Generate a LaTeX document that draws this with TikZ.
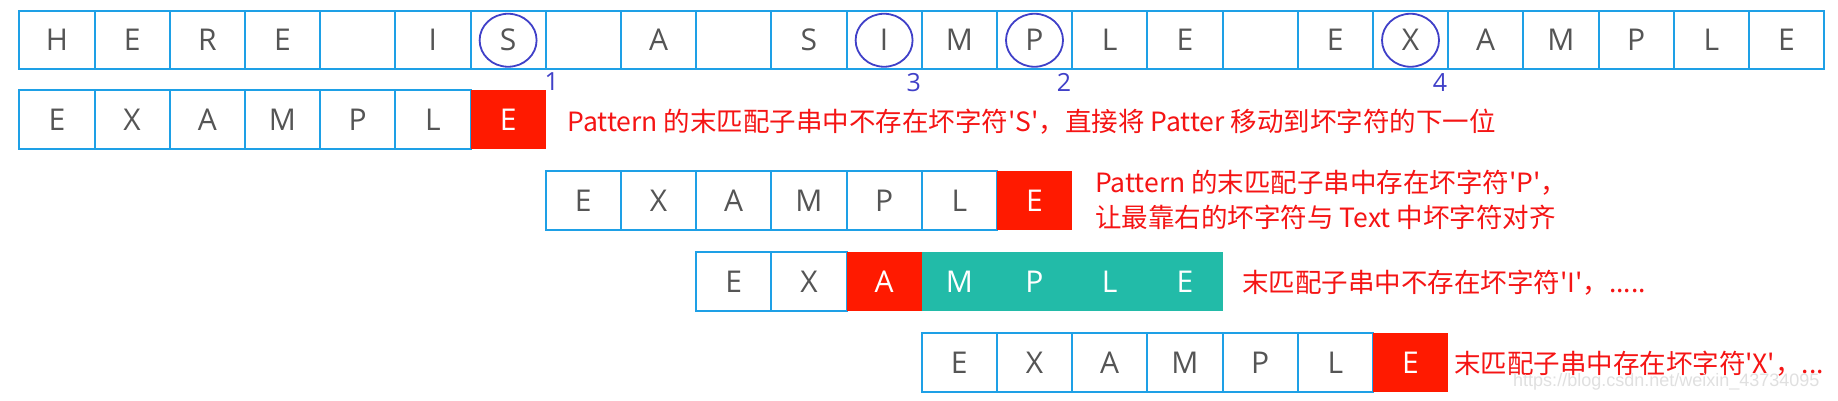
\documentclass[tikz,border=0pt]{standalone}
\usepackage{fontspec}
\setmainfont{Open Sans}
\newfontfamily\cjk{Noto Sans CJK SC}
\newfontfamily\wmfont{Liberation Sans}
\usetikzlibrary{shapes.geometric}
\definecolor{cellblue}{RGB}{30,160,230}
\definecolor{badred}{RGB}{255,26,0}
\definecolor{okteal}{RGB}{34,187,168}
\definecolor{circblue}{RGB}{64,64,200}
\definecolor{txtgray}{RGB}{85,85,85}
\definecolor{notered}{RGB}{245,20,20}
\begin{document}
\begin{tikzpicture}[x=1pt,y=1pt,
  cell/.style={draw=cellblue, line width=2pt, fill=white, minimum width=75.2pt,
    minimum height=58.5pt, inner sep=0pt, anchor=north west, text=txtgray,
    text height=21.5pt, text depth=0pt, font=\fontsize{30}{30}\selectfont},
  badcell/.style={cell, draw=none, fill=badred, text=white},
  goodcell/.style={cell, draw=none, fill=okteal, text=white},
  circmark/.style={draw=circblue, line width=1.8pt, ellipse, minimum width=57pt,
    minimum height=53pt, inner sep=0pt},
  idx/.style={text=circblue, font=\fontsize{25}{25}\selectfont, inner sep=0pt},
  note/.style={text=notered, font=\cjk\fontsize{26.5}{35}\selectfont, anchor=west,
    inner sep=0pt, align=left}
]
\useasboundingbox[fill=white] (0,0) rectangle (1838,-401);

% text row
\foreach \ch [count=\i from 0] in {H,E,R,E,{},I,S,{},A,{},S,I,M,P,L,E,{},E,X,A,M,P,L,E}
  \node[cell] (t\i) at ({18.3+\i*75.2},-10) {\ch};

% bad-character marks
\node[circmark] (cS) at (t6.center) {};
\node[circmark] (cI) at (t11.center) {};
\node[circmark] (cP) at (t13.center) {};
\node[circmark] (cX) at (t18.center) {};
\node[idx] (n1) at ([shift={(5,-11)}]t6.south east) {1};
\node[idx] (n3) at ([shift={(-9,-12)}]t11.south east) {3};
\node[idx] (n2) at ([shift={(-9,-12)}]t13.south east) {2};
\node[idx] (n4) at ([shift={(-9,-12)}]t18.south east) {4};

% pattern row 1
\foreach \ch [count=\i from 0] in {E,X,A,M,P,L}
  \node[cell] (a\i) at ({18.3+(0+\i)*75.2},-89.5) {\ch};
\node[badcell] (a6) at ({18.3+6*75.2},-89.5) {E};
\node[note] (na) at ([xshift=21pt,yshift=-2pt]a6.east)
  {Pattern 的末匹配子串中不存在坏字符'S'，直接将 Patter 移动到坏字符的下一位};

% pattern row 2
\foreach \ch [count=\i from 0] in {E,X,A,M,P,L}
  \node[cell] (b\i) at ({18.3+(7+\i)*75.2},-170) {\ch};
\node[badcell] (b6) at ({18.3+13*75.2},-170) {E};
\node[note] (nb) at ([xshift=22pt]b6.east)
  {Pattern 的末匹配子串中存在坏字符'P'，\\让最靠右的坏字符与 Text 中坏字符对齐};

% pattern row 3
\foreach \ch [count=\i from 0] in {E,X}
  \node[cell] (c\i) at ({18.3+(9+\i)*75.2},-251) {\ch};
\node[badcell] (c2) at ({18.3+11*75.2},-251) {A};
\foreach \ch [count=\i from 3] in {M,P,L,E}
  \node[goodcell] (c\i) at ({18.3+(9+\i)*75.2},-251) {\ch};
\node[note] (nc) at ([xshift=18.5pt,yshift=-1pt]c6.east)
  {末匹配子串中不存在坏字符'I'，.....};

% pattern row 4
\foreach \ch [count=\i from 0] in {E,X,A,M,P,L}
  \node[cell] (d\i) at ({18.3+(12+\i)*75.2},-332) {\ch};
\node[badcell] (d6) at ({18.3+18*75.2},-332) {E};
\node[note] (nd) at ([xshift=5pt,yshift=-1pt]d6.east)
  {末匹配子串中存在坏字符'X'，...};

% watermark
\node[text=black!12, font=\wmfont\fontsize{18}{18}\selectfont, anchor=west, inner sep=0pt]
  (wm) at (1513,-382) {https://blog.csdn.net/weixin\_43734095};
\end{tikzpicture}
\end{document}
